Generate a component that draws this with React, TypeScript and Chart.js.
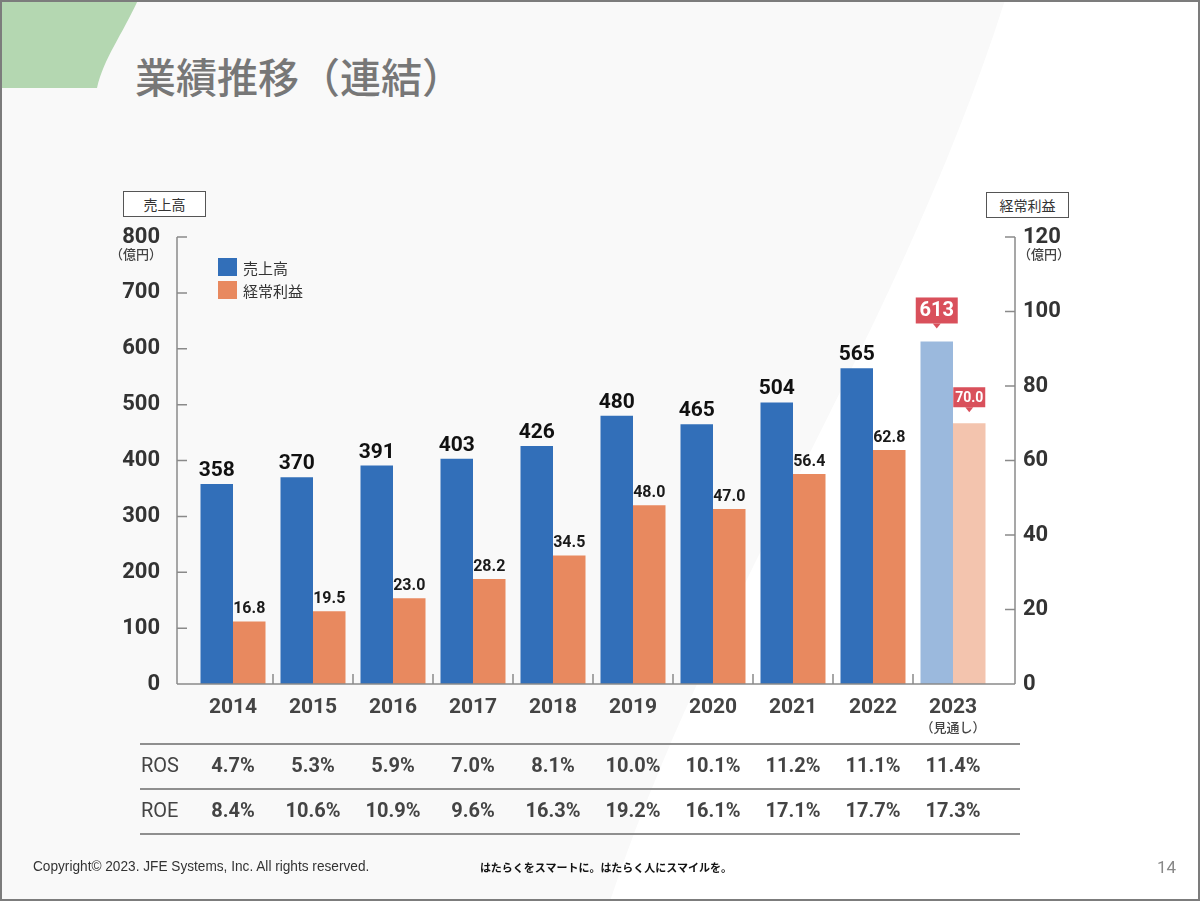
import React, { useEffect, useRef } from "react";
import { Chart, registerables } from "chart.js";

Chart.register(...registerables);

const years = ["2014", "2015", "2016", "2017", "2018", "2019", "2020", "2021", "2022", "2023"];
const sales = [358, 370, 391, 403, 426, 480, 465, 504, 565, 613];
const profit = [16.8, 19.5, 23.0, 28.2, 34.5, 48.0, 47.0, 56.4, 62.8, 70.0];
const rosValues = ["4.7%", "5.3%", "5.9%", "7.0%", "8.1%", "10.0%", "10.1%", "11.2%", "11.1%", "11.4%"];
const roeValues = ["8.4%", "10.6%", "10.9%", "9.6%", "16.3%", "19.2%", "16.1%", "17.1%", "17.7%", "17.3%"];
const salesAxis = { min: 0, max: 800, step: 100 };
const profitAxis = { min: 0, max: 120, step: 20 };
const forecastIndex = 9;
const forecastNote = "（見通し）";
const unitNote = "（億円）";
const salesName = "売上高";
const profitName = "経常利益";

const BLUE = "#326fb9";
const ORANGE = "#e8895f";
const BLUE_LIGHT = "#9bb9dd";
const ORANGE_LIGHT = "#f3c4ae";
const CALLOUT = "#d9505b";
const AXIS = "#8a8a8a";
const JP = "'Noto Sans CJK JP', sans-serif";

const decoPlugin = {
  id: "deco",
  afterDraw(chart: any) {
    const { ctx, chartArea, scales } = chart;
    const xs = scales.x;
    const ys = scales.y;
    const ys1 = scales.y1;
    const base = ys.getPixelForValue(0);
    const top = ys.getPixelForValue(salesAxis.max);
    const leftAxisX = chartArea.left - 16;
    const rightAxisX = chartArea.right + 22;
    ctx.save();
    // axes
    ctx.strokeStyle = AXIS;
    ctx.lineWidth = 1.5;
    ctx.beginPath();
    ctx.moveTo(leftAxisX, top);
    ctx.lineTo(leftAxisX, base);
    ctx.moveTo(rightAxisX, ys1.getPixelForValue(profitAxis.max));
    ctx.lineTo(rightAxisX, base);
    ctx.moveTo(leftAxisX, base);
    ctx.lineTo(rightAxisX, base);
    for (let v = salesAxis.min; v <= salesAxis.max; v += salesAxis.step) {
      const py = ys.getPixelForValue(v);
      ctx.moveTo(leftAxisX, py);
      ctx.lineTo(leftAxisX + 10, py);
    }
    for (let v = profitAxis.min; v <= profitAxis.max; v += profitAxis.step) {
      const py = ys1.getPixelForValue(v);
      ctx.moveTo(rightAxisX - 10, py);
      ctx.lineTo(rightAxisX, py);
    }
    for (let i = 0; i < years.length - 1; i++) {
      const bx = (xs.getPixelForValue(i) + xs.getPixelForValue(i + 1)) / 2;
      ctx.moveTo(bx, base);
      ctx.lineTo(bx, base - 10);
    }
    ctx.stroke();

    // unit notes
    ctx.fillStyle = "#444";
    ctx.font = `500 13px ${JP}`;
    ctx.textBaseline = "middle";
    ctx.textAlign = "right";
    ctx.fillText(unitNote, chartArea.left - 31, top + 17);
    ctx.textAlign = "left";
    ctx.fillText(unitNote, chartArea.right + 25, top + 17);

    // forecast note
    ctx.textAlign = "center";
    ctx.fillText(forecastNote, xs.getPixelForValue(forecastIndex), base + 43);

    // legend
    const lx = chartArea.left + 25;
    const ly = top + 21;
    ctx.fillStyle = BLUE;
    ctx.fillRect(lx, ly, 19, 18);
    ctx.fillStyle = ORANGE;
    ctx.fillRect(lx, ly + 23, 19, 18);
    ctx.fillStyle = "#333";
    ctx.font = `15px ${JP}`;
    ctx.textAlign = "left";
    ctx.fillText(salesName, lx + 25, ly + 10);
    ctx.fillText(profitName, lx + 25, ly + 33);

    // data labels
    const m0 = chart.getDatasetMeta(0);
    const m1 = chart.getDatasetMeta(1);
    const callout = (cx: number, by: number, w: number, h: number, text: string, font: string) => {
      ctx.fillStyle = CALLOUT;
      ctx.fillRect(cx - w / 2, by - h, w, h);
      ctx.beginPath();
      ctx.moveTo(cx - 4, by);
      ctx.lineTo(cx + 4, by);
      ctx.lineTo(cx, by + 5);
      ctx.closePath();
      ctx.fill();
      ctx.fillStyle = "#fff";
      ctx.font = font;
      ctx.textAlign = "center";
      ctx.textBaseline = "middle";
      ctx.fillText(text, cx, by - h / 2 + 1);
    };
    m0.data.forEach((bar: any, i: number) => {
      const txt = String(sales[i]);
      if (i === forecastIndex) {
        callout(bar.x, bar.y - 18, 42, 26, txt, "bold 20px Roboto");
      } else {
        ctx.fillStyle = "#111";
        ctx.font = "bold 21px Roboto";
        ctx.textAlign = "center";
        ctx.textBaseline = "alphabetic";
        ctx.fillText(txt, bar.x, bar.y - 8);
      }
    });
    m1.data.forEach((bar: any, i: number) => {
      const txt = profit[i].toFixed(1);
      if (i === forecastIndex) {
        callout(bar.x, bar.y - 16, 32, 20, txt, "bold 14px Roboto");
      } else {
        ctx.fillStyle = "#1a1a1a";
        ctx.font = "bold 16px Roboto";
        ctx.textAlign = "center";
        ctx.textBaseline = "alphabetic";
        ctx.fillText(txt, bar.x, bar.y - 8);
      }
    });

    // table
    const tl = chartArea.left - 53;
    const tr = rightAxisX + 5;
    ctx.strokeStyle = "#8f8f8f";
    ctx.lineWidth = 2;
    ctx.beginPath();
    [60, 105, 150].forEach((d) => {
      ctx.moveTo(tl, base + d);
      ctx.lineTo(tr, base + d);
    });
    ctx.stroke();
    ctx.fillStyle = "#444";
    ctx.textBaseline = "middle";
    ctx.textAlign = "left";
    ctx.font = "20px Roboto";
    ctx.fillText("ROS", tl + 1, base + 83);
    ctx.fillText("ROE", tl + 1, base + 128);
    ctx.font = "bold 20px Roboto";
    ctx.textAlign = "center";
    years.forEach((_, i) => {
      const cx = xs.getPixelForValue(i);
      ctx.fillText(rosValues[i], cx, base + 83);
      ctx.fillText(roeValues[i], cx, base + 128);
    });
    ctx.restore();
  },
};

function SlideChart() {
  const ref = useRef<HTMLCanvasElement>(null);
  useEffect(() => {
    const canvas = ref.current;
    if (!canvas) return;
    const last = years.length - 1;
    const chart = new Chart(canvas, {
      type: "bar",
      data: {
        labels: years,
        datasets: [
          {
            label: salesName,
            data: sales,
            yAxisID: "y",
            backgroundColor: sales.map((_, i) => (i === last ? BLUE_LIGHT : BLUE)),
            categoryPercentage: 0.8125,
            barPercentage: 1,
          },
          {
            label: profitName,
            data: profit,
            yAxisID: "y1",
            backgroundColor: profit.map((_, i) => (i === last ? ORANGE_LIGHT : ORANGE)),
            categoryPercentage: 0.8125,
            barPercentage: 1,
          },
        ],
      },
      options: {
        responsive: false,
        animation: false,
        devicePixelRatio: 1,
        layout: { padding: { top: 237, left: 0, right: 0, bottom: 0 } },
        plugins: { legend: { display: false }, tooltip: { enabled: false } },
        scales: {
          x: {
            grid: { display: false, drawTicks: false },
            border: { display: false },
            ticks: { color: "#444", font: { family: "Roboto", weight: "bold", size: 21 }, padding: 11 },
            afterFit: (s: any) => {
              s.height = 217;
            },
          },
          y: {
            position: "left",
            min: salesAxis.min,
            max: salesAxis.max,
            grid: { display: false, drawTicks: false },
            border: { display: false },
            ticks: { stepSize: salesAxis.step, color: "#333", font: { family: "Roboto", weight: "bold", size: 22 }, padding: 33 },
            afterFit: (s: any) => {
              s.width = 193;
            },
          },
          y1: {
            position: "right",
            min: profitAxis.min,
            max: profitAxis.max,
            grid: { display: false, drawTicks: false },
            border: { display: false },
            ticks: { stepSize: profitAxis.step, color: "#333", font: { family: "Roboto", weight: "bold", size: 22 }, padding: 30 },
            afterFit: (s: any) => {
              s.width = 207;
            },
          },
        },
      } as any,
      plugins: [decoPlugin],
    });
    return () => chart.destroy();
  }, []);
  return <canvas ref={ref} width={1200} height={901} style={{ position: "absolute", left: 0, top: 0, width: 1200, height: 901 }} />;
}

const unitBox: React.CSSProperties = {
  position: "absolute",
  width: 81,
  height: 24,
  border: "1.5px solid #555",
  background: "#fff",
  color: "#333",
  fontSize: 14,
  lineHeight: "24px",
  textAlign: "center",
  fontFamily: JP,
};

export default function App() {
  return (
    <div style={{ position: "absolute", left: 0, top: 0, width: 1200, height: 901, background: "#f9f9f9", overflow: "hidden", fontFamily: JP }}>
      <svg width={1200} height={901} style={{ position: "absolute", left: 0, top: 0 }}>
        <path d="M1005,0 C900,330 710,600 610,901 L1200,901 L1200,0 Z" fill="#ffffff" />
        <path d="M0,0 L138,0 C122,35 104,58 97,88 L0,88 Z" fill="#b4d7b1" />
      </svg>
      <div style={{ position: "absolute", left: 135, top: 52, fontSize: 41, lineHeight: "46px", color: "#777", fontWeight: 500, whiteSpace: "nowrap" }}>
        業績推移（連結）
      </div>
      <SlideChart />
      <div style={{ ...unitBox, left: 123, top: 191 }}>{salesName}</div>
      <div style={{ ...unitBox, left: 986, top: 192 }}>{profitName}</div>
      <div style={{ position: "absolute", left: 33, top: 857, fontSize: 14, lineHeight: "18px", color: "#333", fontFamily: "'Liberation Sans', sans-serif", whiteSpace: "nowrap", transform: "scaleX(0.975)", transformOrigin: "left center" }}>
        Copyright© 2023. JFE Systems, Inc. All rights reserved.
      </div>
      <div style={{ position: "absolute", left: 480, top: 859, fontSize: 11, lineHeight: "16px", color: "#111", fontWeight: 700, whiteSpace: "nowrap" }}>
        はたらくをスマートに。はたらく人にスマイルを。
      </div>
      <div style={{ position: "absolute", left: 1157, top: 857, fontSize: 17, lineHeight: "20px", color: "#888", fontFamily: "Roboto", whiteSpace: "nowrap" }}>14</div>
      <div style={{ position: "absolute", left: 0, top: 0, width: 1200, height: 901, boxSizing: "border-box", border: "2px solid #7c7c7c", pointerEvents: "none" }} />
    </div>
  );
}
